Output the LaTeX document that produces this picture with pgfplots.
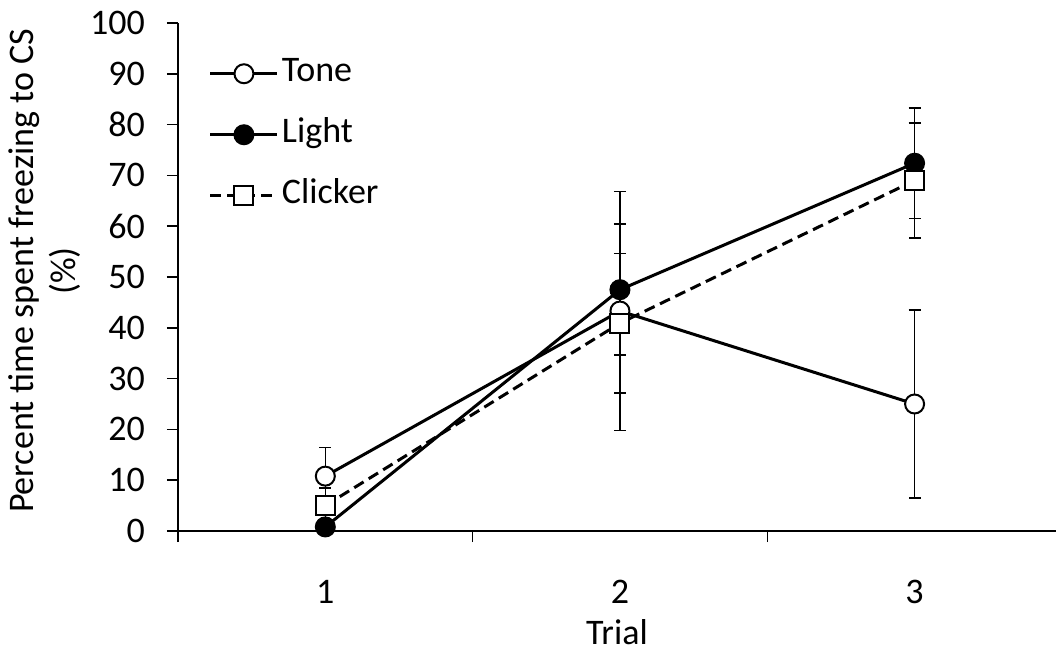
\documentclass[border=0pt]{standalone}
\usepackage{fontspec}
\setmainfont{Carlito}
\usepackage{pgfplots}
\pgfplotsset{compat=1.18}
\pgfplotstableread{
x y e
1 10.8 5.6
2 43.3 23.5
3 25.0 18.5
}\tone
\pgfplotstableread{
x y e
1 0.8 0.8
2 47.5 12.9
3 72.4 10.9
}\light
\pgfplotstableread{
x y e
1 5.0 3.5
2 40.9 13.7
3 69.0 11.3
}\clicker
\begin{document}
\fontsize{36bp}{42bp}\selectfont
\begin{tikzpicture}[font=\fontsize{36bp}{42bp}\selectfont]
\useasboundingbox (0,0) rectangle (1056bp,650bp);
\begin{axis}[
  at={(178bp,119bp)}, anchor=south west,
  scale only axis, width=878bp, height=508bp,
  xmin=0.5, xmax=3.48, ymin=0, ymax=100,
  clip=false,
  axis x line*=bottom, axis y line*=left,
  axis line style={line width=1.5bp,-},
  tick style={line width=1.5bp, black},
  tick align=outside,
  major tick length=11bp, minor tick length=11bp,
  xtick={1,2,3}, minor xtick={0.5,1.5,2.5,3.5},
  major x tick style={draw=none},
  ytick={0,10,...,100},
  /pgf/number format/assume math mode=true,
  xticklabel style={yshift=-26bp},
  yticklabel style={xshift=-10bp},
  xlabel={Trial},
  xlabel style={inner sep=0pt, yshift=-3bp},
  ylabel={Percent time spent freezing to CS\\(\%)},
  ylabel style={align=center, yshift=-15bp, xshift=6bp},
  legend style={draw=none, fill=none, at={(rel axis cs:0.035,0.931)}, anchor=north west,
     row sep=30bp, inner sep=0pt, nodes={inner xsep=3bp, inner ysep=0pt, text height=23bp, text depth=8bp}},
  legend cell align=left,
  legend image code/.code={
     \draw[mark repeat=2,mark phase=2,#1] plot coordinates {(0bp,0bp) (33.5bp,0bp) (67bp,0bp)};
  },
]
\pgfplotsset{every axis plot/.append style={
  error bars/y dir=both, error bars/y explicit,
  error bars/error bar style={line width=1.5bp, solid, black},
  error bars/error mark options={rotate=90, mark size=6bp, line width=1.5bp, solid, black}}}
\addplot[black, line width=3bp, mark=*, mark size=9.5bp, mark options={fill=white, line width=2bp, solid}]
  table[x=x, y=y, y error=e] {\tone};
\addlegendentry{Tone}
\addplot[black, line width=3bp, mark=*, mark size=9.5bp, mark options={fill=black, line width=2bp, solid}]
  table[x=x, y=y, y error=e] {\light};
\addlegendentry{Light}
\addplot[black, line width=3bp, dash pattern=on 11bp off 6bp, mark=square*, mark size=9.5bp, mark options={fill=white, line width=2bp, solid}]
  table[x=x, y=y, y error=e] {\clicker};
\addlegendentry{Clicker}
\end{axis}
\end{tikzpicture}
\end{document}
